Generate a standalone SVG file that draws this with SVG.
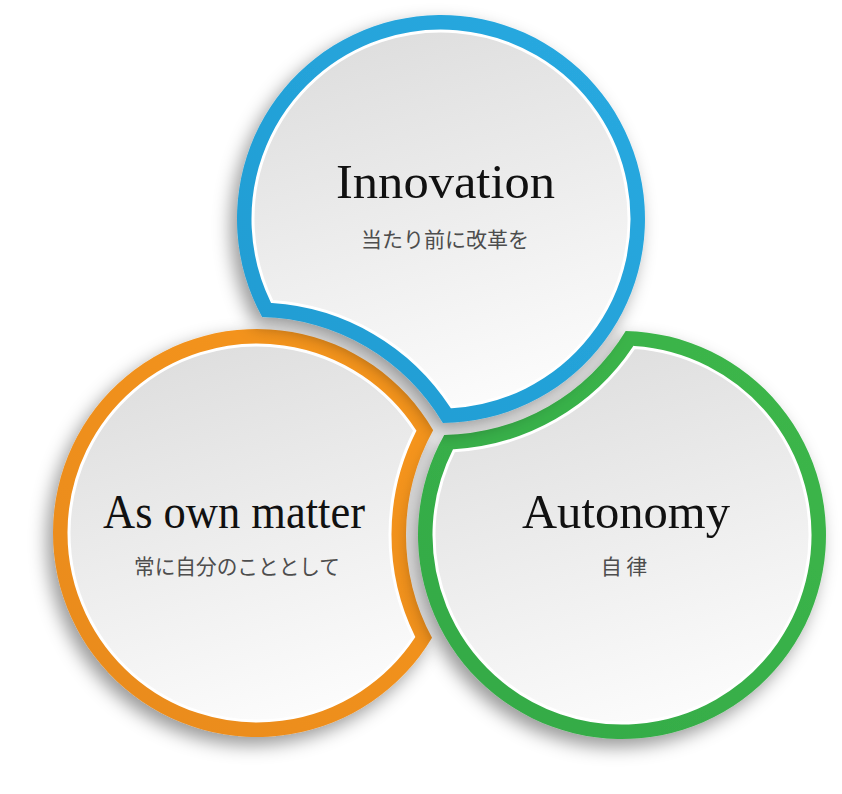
<svg xmlns="http://www.w3.org/2000/svg" width="842" height="794" viewBox="0 0 842 794">
  <defs>
    <filter id="shadow" x="-20%" y="-20%" width="140%" height="140%">
      <feDropShadow dx="-6" dy="8" stdDeviation="9" flood-color="#000" flood-opacity="0.4"/>
    </filter>
    <linearGradient id="disk" x1="0.35" y1="0" x2="0.65" y2="1">
      <stop offset="0" stop-color="#dedede"/>
      <stop offset="1" stop-color="#fcfcfc"/>
    </linearGradient>
    <linearGradient id="blueRing" x1="0" y1="1" x2="1" y2="0">
      <stop offset="0" stop-color="#1f9bd1"/>
      <stop offset="1" stop-color="#2aaae1"/>
    </linearGradient>
    <linearGradient id="orangeRing" x1="0" y1="1" x2="1" y2="0">
      <stop offset="0" stop-color="#e88a1c"/>
      <stop offset="1" stop-color="#f7961f"/>
    </linearGradient>
    <linearGradient id="greenRing" x1="0" y1="1" x2="1" y2="0">
      <stop offset="0" stop-color="#33a946"/>
      <stop offset="1" stop-color="#3db74b"/>
    </linearGradient>
  </defs>
  <style>
    .inner { fill: url(#disk); stroke: #ffffff; stroke-width: 3; }
    .title { font-family: "Liberation Serif", "Times New Roman", serif; font-size: 48px; fill: #111111; text-anchor: middle; }
    .sub { font-family: "Noto Sans CJK JP", "Noto Sans", sans-serif; font-size: 21px; fill: #4d4d4d; text-anchor: middle; }
  </style>
  <rect width="842" height="794" fill="#ffffff"/>

  <g id="connectors"/>

  <g id="node-own-matter">
    <path filter="url(#shadow)" fill="url(#orangeRing)" d="M 433.17 430.13 A 204 204 0 1 0 432.03 637.79 A 216 216 0 0 1 433.17 430.13 Z"/>
    <path class="inner" d="M 414.75 430.73 A 188 188 0 1 0 413.62 636.99 A 232 232 0 0 1 414.75 430.73 Z"/>
    <text class="title" x="234" y="528" textLength="262" lengthAdjust="spacingAndGlyphs">As own matter</text>
    <text class="sub" x="237" y="574" textLength="206" lengthAdjust="spacingAndGlyphs">常に自分のこととして</text>
  </g>

  <g id="node-autonomy">
    <path filter="url(#shadow)" fill="url(#greenRing)" d="M 625.68 331.04 A 204 204 0 1 1 444.20 434.98 A 216 216 0 0 0 625.68 331.04 Z"/>
    <path class="inner" d="M 634.23 347.40 A 188 188 0 1 1 453.99 450.64 A 232 232 0 0 0 634.23 347.40 Z"/>
    <text class="title" x="626" y="528" textLength="208" lengthAdjust="spacingAndGlyphs">Autonomy</text>
    <text class="sub" x="624" y="574">自 律</text>
  </g>

  <g id="node-innovation">
    <path filter="url(#shadow)" fill="url(#blueRing)" d="M 262.10 317.05 A 204 204 0 1 1 442.90 422.99 A 216 216 0 0 0 262.10 317.05 Z"/>
    <path class="inner" d="M 272.06 301.49 A 188 188 0 1 1 451.60 406.71 A 232 232 0 0 0 272.06 301.49 Z"/>
    <text class="title" x="445.5" y="198" textLength="219" lengthAdjust="spacingAndGlyphs">Innovation</text>
    <text class="sub" x="445" y="247" textLength="168" lengthAdjust="spacingAndGlyphs">当たり前に改革を</text>
  </g>
</svg>
